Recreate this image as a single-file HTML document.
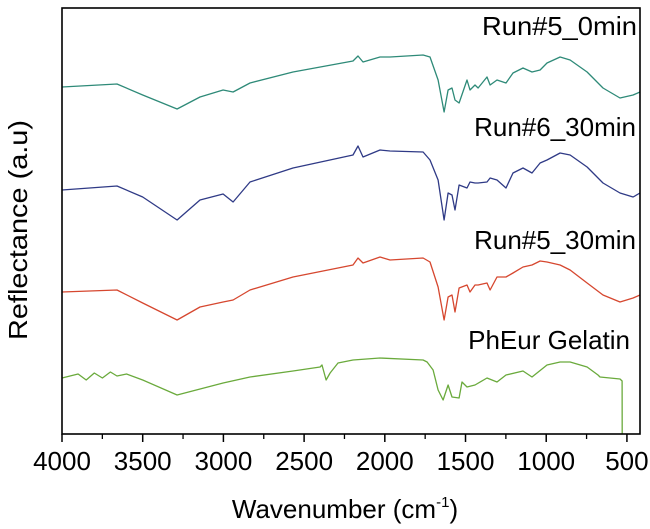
<!DOCTYPE html>
<html><head><meta charset="utf-8"><style>
html,body{margin:0;padding:0;background:#fff}
svg{display:block;font-family:"Liberation Sans",Arial,sans-serif}
</style></head><body>
<svg id="chart" width="650" height="529" viewBox="0 0 650 529" xmlns="http://www.w3.org/2000/svg">
<rect x="0" y="0" width="650" height="529" fill="#fff"/>
<g id="series"></g>
<rect x="62" y="8" width="578" height="426" fill="none" stroke="#000" stroke-width="1.6"/>
<g id="ticks"></g>
<text x="345" y="518" font-size="26" text-anchor="middle">Wavenumber (cm<tspan font-size="15" dy="-11">-1</tspan><tspan dy="11">)</tspan></text>
<text transform="translate(27,230) rotate(-90)" font-size="26" text-anchor="middle" textLength="220" lengthAdjust="spacingAndGlyphs">Reflectance (a.u)</text>
<text x="637" y="35" font-size="26" text-anchor="end" textLength="155" lengthAdjust="spacingAndGlyphs">Run#5_0min</text>
<text x="636" y="136" font-size="26" text-anchor="end">Run#6_30min</text>
<text x="636" y="249" font-size="26" text-anchor="end">Run#5_30min</text>
<text x="630" y="349" font-size="26" text-anchor="end">PhEur Gelatin</text>
</svg>
<script>
const wn = [4000,3659,3500,3287,3145,3002,2940,2835,2569,2197,2166,2135,2030,1968,1763,1720,1670,1633,1608,1584,1565,1540,1491,1472,1441,1422,1367,1348,1305,1249,1206,1144,1088,1038,995,914,852,747,648,543,462,419];
const run5_0min = [347,350,339,325,337,344,342,351,362,373,378,372,377,377,379,377,354,322,344,346,334,331,354,344,349,346,357,349,354,351,361,366,362,364,371,377,374,362,346,336,339,342];
const run6_30min = [244,248,237,214,234,240,232,252,266,279,288,277,284,283,282,274,254,214,241,239,224,249,246,252,251,251,252,256,254,246,261,266,261,271,274,281,279,267,251,241,237,241];
const run5_30min = [142,144,131,114,127,132,134,144,157,169,176,171,177,174,176,172,147,114,137,139,122,146,149,142,149,149,151,144,157,157,161,167,169,173,172,169,164,151,139,132,136,139];
const wnGel = [4000,3900,3850,3800,3750,3700,3659,3600,3500,3287,3002,2835,2569,2401,2389,2364,2339,2290,2197,2030,1763,1738,1701,1670,1639,1608,1584,1540,1522,1491,1441,1367,1305,1249,1144,1088,995,914,852,747,679,667,543,530,529];
const gelatin = [56,60,54,61,56,62,58,60,54,39,51,57,63,67,69,54,61,71,74,76,74,72,64,44,34,49,37,36,52,47,49,56,52,59,63,57,69,72,72,67,59,57,55,53,0];
const xTicks = [4000,3500,3000,2500,2000,1500,1000,500];
const xMinor = [3750,3250,2750,2250,1750,1250,750];

const X0=62, X1=640, W0=4000, W1=419;
function xs(w){return X0+(W0-w)*(X1-X0)/(W0-W1);}
function ys(v){return 434-v;}
const NS="http://www.w3.org/2000/svg";
const g=document.getElementById('series');
function draw(xarr,varr,color,name){
  const p=document.createElementNS(NS,'path');
  let d='';
  for(let i=0;i<xarr.length;i++){d+=(i?'L':'M')+xs(xarr[i]).toFixed(1)+' '+ys(varr[i]).toFixed(1);}
  p.setAttribute('d',d);p.setAttribute('fill','none');p.setAttribute('stroke',color);p.setAttribute('stroke-width','1.3');
  p.setAttribute('stroke-linejoin','round');
  
  
  g.appendChild(p);
}
draw(wn,run5_0min,'#2e8a78','series-run5-0min');
draw(wn,run6_30min,'#2f3a86','series-run6-30min');
draw(wn,run5_30min,'#d6472f','series-run5-30min');
draw(wnGel,gelatin,'#6aaa3c','series-pheur-gelatin');

const t=document.getElementById('ticks');
xTicks.forEach(w=>{
  const x=xs(w);
  const l=document.createElementNS(NS,'line');
  l.setAttribute('x1',x);l.setAttribute('x2',x);l.setAttribute('y1',434);l.setAttribute('y2',442);
  l.setAttribute('stroke','#000');l.setAttribute('stroke-width','1.5');
  
  
  t.appendChild(l);
  const tx=document.createElementNS(NS,'text');
  tx.setAttribute('x',x);tx.setAttribute('y',470);tx.setAttribute('font-size','26');tx.setAttribute('text-anchor','middle');
  tx.textContent=w;
  
  
  t.appendChild(tx);
});
xMinor.forEach(w=>{
  const x=xs(w);
  const l=document.createElementNS(NS,'line');
  l.setAttribute('x1',x);l.setAttribute('x2',x);l.setAttribute('y1',434);l.setAttribute('y2',439);
  l.setAttribute('stroke','#000');l.setAttribute('stroke-width','1.3');
  
  
  t.appendChild(l);
});
</script>
</body></html>
